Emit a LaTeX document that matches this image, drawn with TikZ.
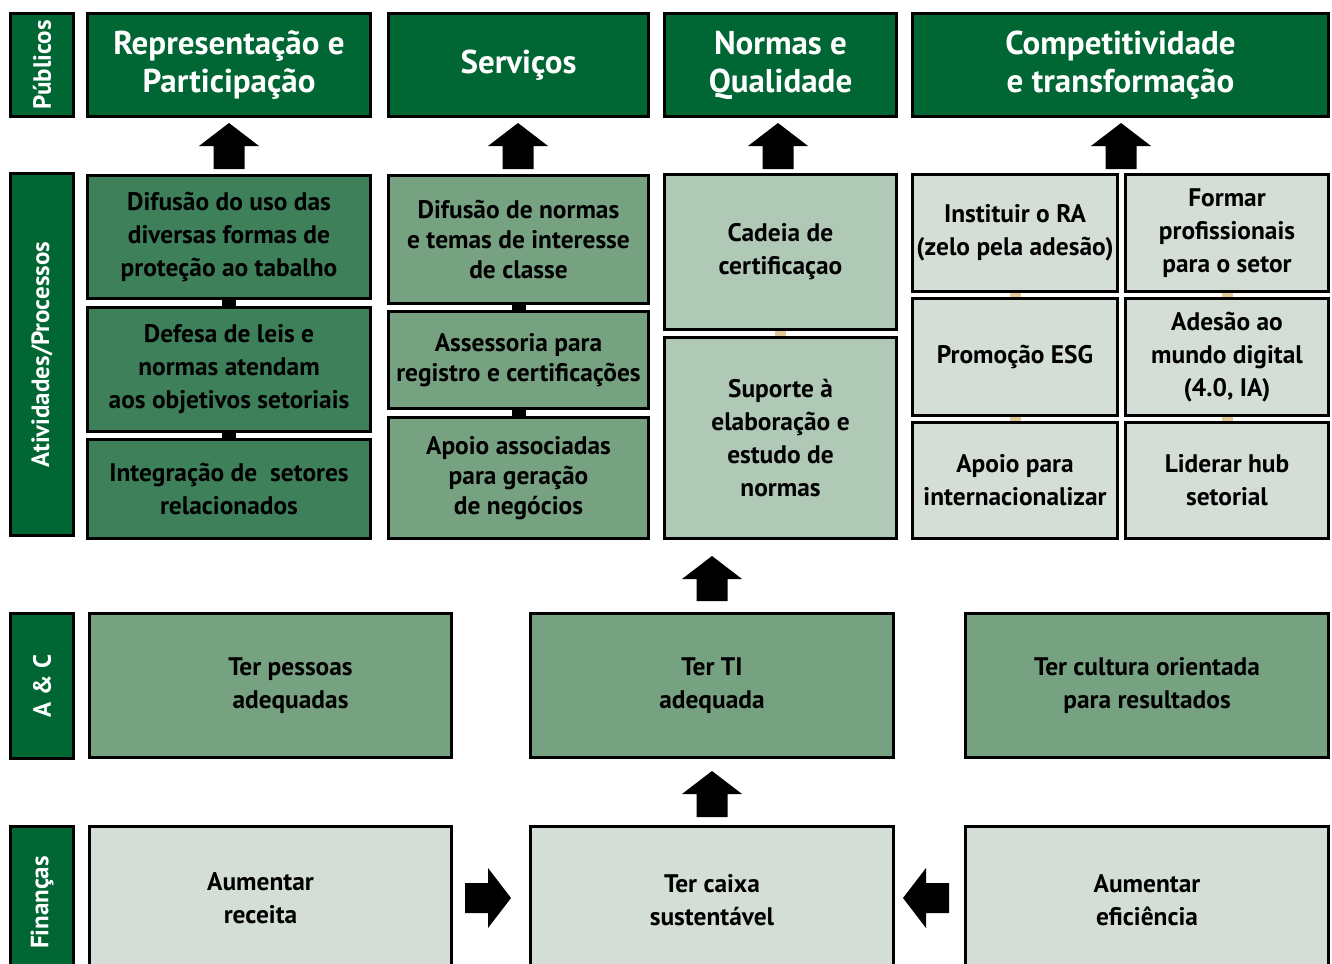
\documentclass[tikz,border=0pt]{standalone}
\usepackage{fontspec}
\usepackage{graphicx}
\setmainfont{PT Sans}
\usetikzlibrary{calc}
\definecolor{dkgreen}{RGB}{0,102,51}
\definecolor{midgreen}{RGB}{61,128,90}
\definecolor{sage}{RGB}{119,162,130}
\definecolor{pale}{RGB}{176,200,182}
\definecolor{paler}{RGB}{212,222,214}
\definecolor{tanbar}{RGB}{226,200,150}
\newcommand{\mkbox}[7]{%
  \pgfmathsetmacro\bw{#4-#2-3}\pgfmathsetmacro\bh{#5-#3-3}%
  \node[#6, minimum width=\bw pt, minimum height=\bh pt] (#1) at ({(#2+#4)/2},{(#3+#5)/2}) {#7};}
\newcommand{\uparr}[3]{%
  \fill ({#1},{#2}) -- ({#1+30},{#2+23}) -- ({#1+15.5},{#2+23}) -- ({#1+15.5},{#3}) -- ({#1-15.5},{#3}) -- ({#1-15.5},{#2+23}) -- ({#1-30},{#2+23}) -- cycle;}
\newcommand{\hzarr}[3]{% tail x, tip x, center y
  \pgfmathsetmacro\hb{#2+((#1)-(#2))/2}%
  \fill ({#2},{#3}) -- (\hb,{#3-30}) -- (\hb,{#3-15}) -- ({#1},{#3-15}) -- ({#1},{#3+15}) -- (\hb,{#3+15}) -- (\hb,{#3+30}) -- cycle;}
\newcommand{\shifted}[2]{\hspace*{#1}\begin{tabular}{@{}c@{}}#2\end{tabular}}
\tikzset{
  base/.style={draw=black, line width=2.6pt, inner sep=0pt, outer sep=0pt, align=center,
    font=\bfseries\fontsize{25.4}{33}\selectfont, text=black},
  title/.style={base, fill=dkgreen, text=white, font=\bfseries\fontsize{33}{38}\selectfont},
  lab/.style={base, fill=dkgreen, text=white, font=\bfseries\fontsize{25}{28}\selectfont},
  c1/.style={base, fill=midgreen},
  c2/.style={base, fill=sage},
  c2t/.style={base, fill=sage, font=\bfseries\fontsize{25.4}{30}\selectfont},
  c3/.style={base, fill=pale},
  c4/.style={base, fill=paler},
  bar/.style={line width=14pt, black},
  tbar/.style={line width=11pt, tanbar},
}
\begin{document}
\begin{tikzpicture}[x=1pt,y=-1pt]
\useasboundingbox (0,0) rectangle (1332,963);
\clip (0,0) rectangle (1332,963);
\fill[white] (0,0) rectangle (1332,963);
% labels
\mkbox{lpub}{9}{12}{75}{118}{lab}{\rotatebox{90}{Públicos}}
\mkbox{lati}{9}{172}{75}{537}{lab}{\rotatebox{90}{Atividades/Processos}}
\mkbox{lac}{9}{612}{75}{760}{lab}{\rotatebox{90}{A \& C}}
\mkbox{lfin}{9}{825}{75}{980}{lab}{\rotatebox{90}{Finanças}}
% titles
\mkbox{t1}{86}{12}{372}{118}{title}{Representação e\\Participação}
\mkbox{t2}{387}{12}{650}{118}{title}{Serviços}
\mkbox{t3}{663}{12}{898}{118}{title}{Normas e\\Qualidade}
\mkbox{t4}{911}{12}{1330}{118}{title}{Competitividade\\e transformação}
% column 1
\mkbox{a1}{86}{174}{372}{300}{c1}{Difusão do uso das\\diversas formas de\\proteção ao tabalho}
\mkbox{a2}{86}{306}{372}{433}{c1}{Defesa de leis e\\normas atendam\\aos objetivos setoriais}
\mkbox{a3}{86}{438}{372}{540}{c1}{Integração de\ \ setores\\relacionados}
% column 2
\mkbox{b1}{387}{174}{650}{305}{c2t}{Difusão de normas\\e temas de interesse\\de classe}
\mkbox{b2}{387}{310}{650}{410}{c2t}{Assessoria para\\registro e certificações}
\mkbox{b3}{387}{416}{650}{540}{c2t}{Apoio associadas\\para geração\\de negócios}
% column 3
\mkbox{n1}{663}{173}{898}{331}{c3}{Cadeia de\\certificaçao}
\mkbox{n2}{663}{336}{898}{540}{c3}{Suporte à\\elaboração e\\estudo de\\normas}
% column 4
\mkbox{d1}{911}{173}{1119}{293}{c4}{Instituir o RA\\(zelo pela adesão)}
\mkbox{d2}{1124}{173}{1330}{293}{c4}{Formar\\profissionais\\para o setor}
\mkbox{d3}{911}{297}{1119}{417}{c4}{Promoção ESG}
\mkbox{d4}{1124}{297}{1330}{417}{c4}{Adesão ao\\mundo digital\\(4.0, IA)}
\mkbox{d5}{911}{421}{1119}{540}{c4}{Apoio para\\internacionalizar}
\mkbox{d6}{1124}{421}{1330}{540}{c4}{Liderar hub\\setorial}
% A & C
\mkbox{p1}{88}{612}{453}{759}{c2}{\shifted{40pt}{Ter pessoas\\adequadas}}
\mkbox{p2}{529}{612}{895}{759}{c2}{Ter TI\\adequada}
\mkbox{p3}{964}{612}{1330}{759}{c2}{Ter cultura orientada\\para resultados}
% Finanças
\mkbox{f1}{88}{825}{453}{975}{c4}{\shifted{-20pt}{Aumentar\\receita}}
\mkbox{f2}{529}{825}{895}{975}{c4}{Ter caixa\\sustentável}
\mkbox{f3}{964}{825}{1330}{975}{c4}{Aumentar\\eficiência}
% connector bars
\draw[bar] (a1.south) -- (a2.north);
\draw[bar] (a2.south) -- (a3.north);
\draw[bar] (b1.south) -- (b2.north);
\draw[bar] (b2.south) -- (b3.north);
\draw[tbar] (n1.south) -- (n2.north);
\draw[tbar] (d1.south) -- (d3.north);
\draw[tbar] (d3.south) -- (d5.north);
\draw[tbar] (d2.south) -- (d4.north);
\draw[tbar] (d4.south) -- (d6.north);
% redraw borders over tan bars
\foreach \n in {n1,n2,d1,d2,d3,d4,d5,d6}{\draw[line width=2.6pt] (\n.north west) rectangle (\n.south east);}
% block arrows
\uparr{229}{123}{169}
\uparr{518}{123}{169}
\uparr{778}{123}{169}
\uparr{1121}{123}{169}
\uparr{712}{556}{601}
\uparr{712}{771}{817}
\hzarr{465}{511}{898}
\hzarr{949}{903}{898}
\end{tikzpicture}
\end{document}
